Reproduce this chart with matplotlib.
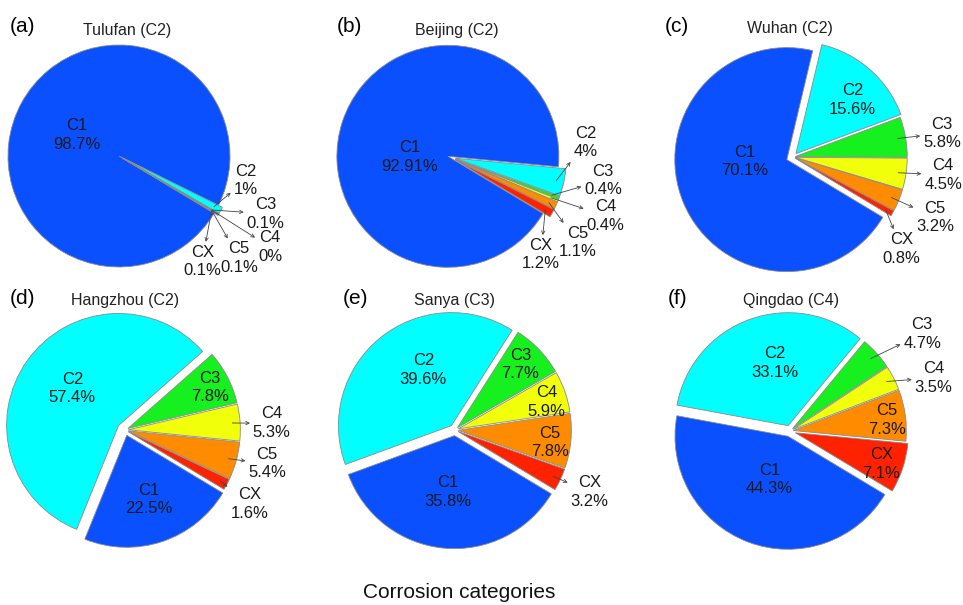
import numpy as np
import matplotlib.pyplot as plt

plt.rcParams['font.family'] = ['Liberation Sans', 'DejaVu Sans']

# data (percent of area in each corrosion category)
categories = ["C1", "C2", "C3", "C4", "C5", "CX"]
colors = ["#0A50FF", "#00FFFF", "#16F01E", "#F2FF0A", "#FF8C00", "#FF2200"]

panels = ["(a)", "(b)", "(c)", "(d)", "(e)", "(f)"]
cities = ["Tulufan (C2)", "Beijing (C2)", "Wuhan (C2)",
          "Hangzhou (C2)", "Sanya (C3)", "Qingdao (C4)"]

tulufan = [98.7, 1, 0.1, 0, 0.1, 0.1]
beijing = [92.91, 4, 0.4, 0.4, 1.1, 1.2]
wuhan = [70.1, 15.6, 5.8, 4.5, 3.2, 0.8]
hangzhou = [22.5, 57.4, 7.8, 5.3, 5.4, 1.6]
sanya = [35.8, 39.6, 7.7, 5.9, 7.8, 3.2]
qingdao = [44.3, 33.1, 4.7, 3.5, 7.3, 7.1]
all_values = [tulufan, beijing, wuhan, hangzhou, sanya, qingdao]

# layout: pie centre / radius in pixels, explode, label spots (in radius units)
# and which labels sit outside with a leader arrow
layout = [
    dict(c=(119, 156), r=111, explode=[0, .04, .04, .04, .04, .04],
         pos=[(-0.38, 0.19), (1.14, -0.22), (1.32, -0.52), (1.36, -0.82), (1.08, -0.92), (0.75, -0.95)],
         outside=[1, 2, 3, 4, 5], title=(127, 30), lab=(10, 27)),
    dict(c=(450, 157), r=111, explode=[0.02, .05, .05, .05, .05, .05],
         pos=[(-0.36, 0.0), (1.22, 0.13), (1.38, -0.21), (1.40, -0.53), (1.15, -0.77), (0.82, -0.88)],
         outside=[1, 2, 3, 4, 5], title=(457, 30), lab=(337, 27)),
    dict(c=(793, 157), r=112, explode=[0.06, .04, .02, .02, .02, .02],
         pos=[(-0.43, -0.04), (0.53, 0.51), (1.33, 0.21), (1.34, -0.16), (1.27, -0.54), (0.97, -0.82)],
         outside=[2, 3, 4, 5], title=(790, 29), lab=(665, 27)),
    dict(c=(125, 430), r=112, explode=[0.05, .07, .03, .03, .03, .03],
         pos=[(0.21, -0.62), (-0.47, 0.37), (0.76, 0.38), (1.31, 0.06), (1.27, -0.30), (1.11, -0.66)],
         outside=[3, 4, 5], title=(125, 300), lab=(10, 298)),
    dict(c=(455, 430), r=113, explode=[0.05, .05, .03, .03, .03, .03],
         pos=[(-0.06, -0.55), (-0.28, 0.53), (0.58, 0.58), (0.81, 0.25), (0.84, -0.11), (1.19, -0.55)],
         outside=[5], title=(454, 300), lab=(343, 298)),
    dict(c=(790, 431), r=113, explode=[0.05, .05, .03, .03, .03, .05],
         pos=[(-0.18, -0.43), (-0.13, 0.60), (1.17, 0.86), (1.27, 0.47), (0.86, 0.10), (0.81, -0.29)],
         outside=[2, 3], title=(791, 300), lab=(668, 298)),
]

W, H = 963, 605
fig = plt.figure(figsize=(W / 100, H / 100), dpi=100)
span = 1.7

for values, lay, panel, city in zip(all_values, layout, panels, cities):
    cx, cy = lay["c"]
    r = lay["r"]
    size = 2 * span * r
    ax = fig.add_axes([(cx - span * r) / W, 1 - (cy + span * r) / H, size / W, size / H])
    ax.patch.set_alpha(0)
    wedges, _ = ax.pie(values, colors=colors, explode=lay["explode"], startangle=-31,
                       counterclock=False, radius=1,
                       wedgeprops=dict(edgecolor="#8a8a8a", linewidth=0.6))
    ax.set_xlim(-span, span)
    ax.set_ylim(-span, span)
    ax.set_aspect("equal")
    ax.axis("off")

    for i, (w, cat, v) in enumerate(zip(wedges, categories, values)):
        text = f"{cat}\n{v:g}%"
        tx, ty = lay["pos"][i]
        if i in lay["outside"]:
            mid = np.deg2rad((w.theta1 + w.theta2) / 2)
            wx = w.center[0] + 0.93 * np.cos(mid)
            wy = w.center[1] + 0.93 * np.sin(mid)
            ax.annotate(text, xy=(wx, wy), xytext=(tx, ty), ha="center", va="center",
                        fontsize=12, color="#1a1a1a", linespacing=1.3,
                        arrowprops=dict(arrowstyle="<-", color="#444444", lw=0.6,
                                        shrinkA=0, shrinkB=0, mutation_scale=6))
        else:
            ax.text(tx, ty, text, ha="center", va="center", fontsize=12,
                    color="#1a1a1a", linespacing=1.3)

    fig.text(lay["title"][0] / W, 1 - lay["title"][1] / H, city, ha="center", va="center",
             fontsize=11.5, color="#222222")
    fig.text(lay["lab"][0] / W, 1 - lay["lab"][1] / H, panel, ha="left", va="center",
             fontsize=15, color="black")

fig.text(459 / W, 1 - 593 / H, "Corrosion categories", ha="center", va="center",
         fontsize=15, color="#111111")

fig.savefig("out.png", dpi=100)
